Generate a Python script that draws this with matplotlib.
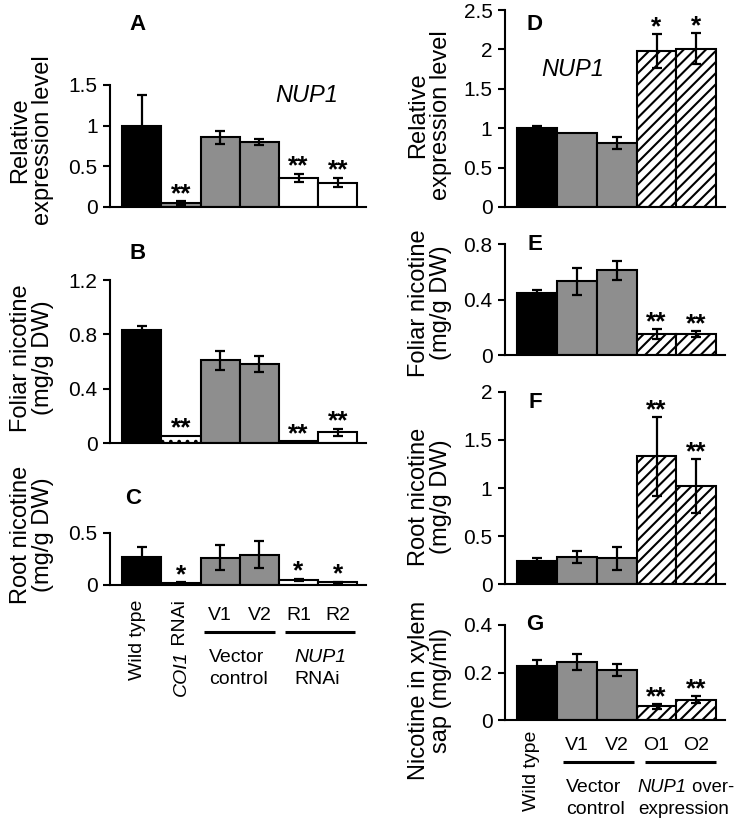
import numpy as np
import matplotlib
matplotlib.use("Agg")
import matplotlib.pyplot as plt
import matplotlib.transforms as mtransforms

plt.rcParams['font.family'] = ['Liberation Sans', 'DejaVu Sans']
plt.rcParams['hatch.linewidth'] = 1.5

# left column (RNAi lines)
left_names = ['Wild type', 'COI1 RNAi', 'V1', 'V2', 'R1', 'R2']
a_vals = [1.0, 0.05, 0.86, 0.795, 0.36, 0.30]
a_err = [0.38, 0.02, 0.08, 0.035, 0.05, 0.06]
a_stars = ['', '**', '', '', '**', '**']
b_vals = [0.83, 0.055, 0.61, 0.58, 0.015, 0.08]
b_err = [0.035, 0.0, 0.07, 0.06, 0.0, 0.025]
b_stars = ['', '**', '', '', '**', '**']
c_vals = [0.27, 0.02, 0.26, 0.29, 0.05, 0.025]
c_err = [0.10, 0.005, 0.12, 0.13, 0.01, 0.008]
c_stars = ['', '*', '', '', '*', '*']

# right column (overexpression lines)
right_names = ['Wild type', 'V1', 'V2', 'O1', 'O2']
d_vals = [1.0, 0.935, 0.81, 1.98, 2.01]
d_err = [0.03, 0.0, 0.08, 0.21, 0.2]
d_stars = ['', '', '', '*', '*']
e_vals = [0.45, 0.53, 0.61, 0.15, 0.15]
e_err = [0.02, 0.10, 0.07, 0.035, 0.02]
e_stars = ['', '', '', '**', '**']
f_vals = [0.24, 0.28, 0.27, 1.33, 1.02]
f_err = [0.03, 0.065, 0.12, 0.41, 0.28]
f_stars = ['', '', '', '**', '**']
g_vals = [0.227, 0.245, 0.21, 0.058, 0.086]
g_err = [0.025, 0.035, 0.025, 0.01, 0.015]
g_stars = ['', '', '', '**', '**']

W, H = 740, 823
GRAY = '#8e8e8e'

fig = plt.figure(figsize=(W / 100, H / 100), dpi=100)


def add_axes(x0, x1, ytop, ybot):
    return fig.add_axes([x0 / W, 1 - ybot / H, (x1 - x0) / W, (ybot - ytop) / H])


def panel(ax, vals, err, stars, colors, hatches, ylim, yticks, ylabels):
    n = len(vals)
    x = np.arange(n)
    vals = np.array(vals)
    err = np.array(err)
    ax.bar(x, vals, width=1.0, color=colors, edgecolor='black', linewidth=1.5,
           hatch=hatches, zorder=2)
    m = err > 0
    ax.errorbar(x[m], vals[m], yerr=err[m], fmt='none', ecolor='black',
                elinewidth=1.6, capsize=3.5, capthick=1.6, zorder=3)
    for xi, v, e, s in zip(x, vals, err, stars):
        if s:
            ax.annotate(s, (xi, v + e), xytext=(0, 0), textcoords='offset points',
                        ha='center', va='baseline', fontsize=19, fontweight='bold')
    ax.set_xlim(-0.81, n - 0.5 + 0.22)
    ax.set_ylim(*ylim)
    ax.set_yticks(yticks)
    ax.set_yticklabels(ylabels, fontsize=15)
    ax.set_xticks([])
    for sp in ['top', 'right']:
        ax.spines[sp].set_visible(False)
    for sp in ['left', 'bottom']:
        ax.spines[sp].set_linewidth(1.5)
    ax.tick_params(axis='y', length=5, width=1.5, pad=4)
    ax.set_facecolor('none')


def ylab(x, y, s):
    fig.text(x / W, 1 - y / H, s, rotation=90, ha='center', va='center',
             fontsize=17, multialignment='center', linespacing=1.05)


def letter(x, y, s):
    fig.text(x / W, 1 - y / H, s, ha='center', va='center', fontsize=16,
             fontweight='bold')


left_colors = ['black', GRAY, GRAY, GRAY, 'white', 'white']

axA = add_axes(110, 366, 85, 207)
panel(axA, a_vals, a_err, a_stars, left_colors, None, (0, 1.5),
      [0, 0.5, 1, 1.5], ['0', '0.5', '1', '1.5'])

axB = add_axes(110, 366, 280, 443)
panel(axB, b_vals, b_err, b_stars, ['black', 'white', GRAY, GRAY, 'white', 'white'],
      [None, '..', None, None, None, None], (0, 1.2),
      [0, 0.4, 0.8, 1.2], ['0', '0.4', '0.8', '1.2'])

axC = add_axes(110, 366, 533, 585)
panel(axC, c_vals, c_err, c_stars, ['black', 'white', GRAY, GRAY, 'white', 'white'],
      [None, '..', None, None, None, None], (0, 0.5),
      [0, 0.5], ['0', '0.5'])

right_colors = ['black', GRAY, GRAY, 'white', 'white']
right_hatch = [None, None, None, '///', '///']

axD = add_axes(505, 725, 10, 207)
panel(axD, d_vals, d_err, d_stars, right_colors, right_hatch, (0, 2.5),
      [0, 0.5, 1, 1.5, 2, 2.5], ['0', '0.5', '1', '1.5', '2', '2.5'])

axE = add_axes(505, 725, 244, 355)
panel(axE, e_vals, e_err, e_stars, right_colors, right_hatch, (0, 0.8),
      [0, 0.4, 0.8], ['0', '0.4', '0.8'])

axF = add_axes(505, 725, 392, 584)
panel(axF, f_vals, f_err, f_stars, right_colors, right_hatch, (0, 2),
      [0, 0.5, 1, 1.5, 2], ['0', '0.5', '1', '1.5', '2'])

axG = add_axes(505, 725, 625, 720)
panel(axG, g_vals, g_err, g_stars, right_colors, right_hatch, (0, 0.4),
      [0, 0.2, 0.4], ['0', '0.2', '0.4'])

# panel letters and gene names
letter(138, 25, 'A')
letter(138, 253, 'B')
letter(133, 498, 'C')
letter(535, 25, 'D')
letter(535, 245, 'E')
letter(535, 403, 'F')
letter(535, 625, 'G')
fig.text(307 / W, 1 - 95 / H, 'NUP1', ha='center', va='center', fontsize=17,
         fontstyle='italic')
fig.text(573 / W, 1 - 70 / H, 'NUP1', ha='center', va='center', fontsize=17,
         fontstyle='italic')

# y axis labels
ylab(32, 140, 'Relative\nexpression level')
ylab(32, 358, 'Foliar nicotine\n(mg/g DW)')
ylab(32, 535, 'Root nicotine\n(mg/g DW)')
ylab(430, 115, 'Relative\nexpression level')
ylab(430, 303, 'Foliar nicotine\n(mg/g DW)')
ylab(430, 497, 'Root nicotine\n(mg/g DW)')
ylab(430, 690, 'Nicotine in xylem\nsap (mg/ml)')


# category labels under the bottom panels
def blend(ax):
    return mtransforms.blended_transform_factory(ax.transData, fig.transFigure)


def txt(ax, x, y, s, **kw):
    kw.setdefault('fontsize', 14)
    return ax.text(x, 1 - y / H, s, transform=blend(ax), clip_on=False, **kw)


def italic_then(ax, x, y, first, rest, size):
    t1 = txt(ax, x, y, first, ha='left', va='center', fontstyle='italic',
             fontsize=size)
    ax.annotate(rest, xy=(1, 0), xycoords=t1, ha='left', va='bottom',
                fontsize=size)


def group_line(ax, x0, x1, y):
    ax.plot([x0, x1], [1 - y / H] * 2, transform=blend(ax), color='black',
            lw=2.2, clip_on=False, solid_capstyle='butt')


# left
txt(axC, -0.12, 600, left_names[0], rotation=90, ha='center', va='top')
rnai = txt(axC, 1, 600, ' ' + left_names[1].split(' ')[1], rotation=90,
           ha='center', va='top')
axC.annotate(left_names[1].split(' ')[0], xy=(0.5, 0), xycoords=rnai,
             rotation=90, ha='center', va='top', fontsize=14, fontstyle='italic')
for i in range(2, 6):
    txt(axC, i, 615, left_names[i], ha='center', va='center')
group_line(axC, 1.6, 3.4, 632)
group_line(axC, 3.65, 5.45, 632)
txt(axC, 1.72, 657, 'Vector', ha='left', va='center')
txt(axC, 1.72, 680, 'control', ha='left', va='center')
txt(axC, 3.9, 657, 'NUP1', ha='left', va='center', fontstyle='italic')
txt(axC, 3.9, 680, 'RNAi', ha='left', va='center')

# right
txt(axG, -0.15, 731, right_names[0], rotation=90, ha='center', va='top')
for i in range(1, 5):
    txt(axG, i, 745, right_names[i], ha='center', va='center')
group_line(axG, 0.64, 2.43, 762)
group_line(axG, 2.72, 4.5, 762)
txt(axG, 0.72, 788, 'Vector', ha='left', va='center')
txt(axG, 0.72, 810, 'control', ha='left', va='center')
italic_then(axG, 2.53, 788, 'NUP1', ' over-', 13.2)
txt(axG, 2.53, 810, 'expression', ha='left', va='center', fontsize=13.6)

fig.savefig('out.png', dpi=100)
